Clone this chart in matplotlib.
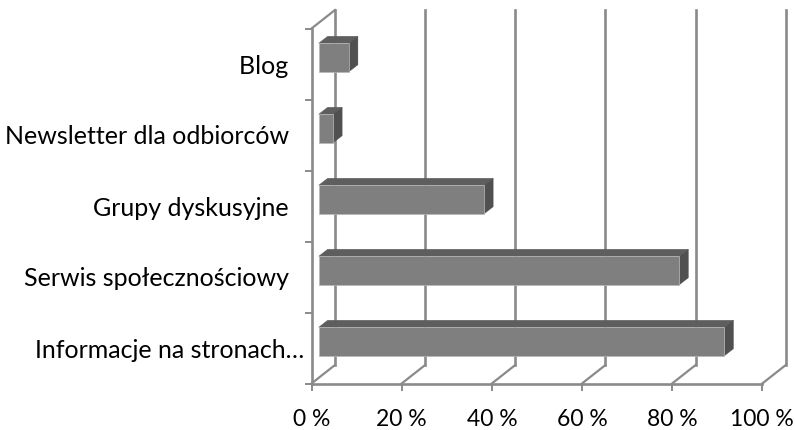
import matplotlib
matplotlib.use("Agg")
import matplotlib.pyplot as plt
from matplotlib.patches import Polygon

plt.rcParams['font.family'] = ['Lato', 'DejaVu Sans']

# bottom to top, same as the chart axis
TAIL = "\u00a0\u00a0\u2009"
categories = ["Informacje na stronach…", "Serwis społecznościowy" + TAIL, "Grupy dyskusyjne" + TAIL,
              "Newsletter dla odbiorców" + TAIL, "Blog" + TAIL]
values = [90, 80, 36.7, 3.2, 6.7]
x_ticks = [0, 20, 40, 60, 80, 100]
x_labels = ["0 %", "20 %", "40 %", "60 %", "80 %", "100 %"]

GRID = "#8a8a8a"
EDGE = "#b8b8b8"
W, H = 795, 430

fig = plt.figure(figsize=(W / 100, H / 100), dpi=100)
# front plane of the fake 3D box, in pixels
left, right, bottom, top = 311.5, 762.3, 383.5, 28.5
ax = fig.add_axes([left / W, 1 - bottom / H, (right - left) / W, (bottom - top) / H])
ax.set_xlim(0, 100)
ax.set_ylim(-0.5, 4.5)

px_x = 100 / (right - left)
px_y = 5 / (bottom - top)

# depth of the back wall
back_dx, back_dy = 23.5 * px_x, 18.5 * px_y
wall_bottom = -0.5

# walls and gridlines
for t in x_ticks:
    ax.plot([t, t + back_dx], [wall_bottom, wall_bottom + back_dy], color=GRID, lw=1.6, clip_on=False, zorder=1)
    ax.plot([t + back_dx, t + back_dx], [wall_bottom + back_dy, 4.5 + back_dy], color=GRID, lw=1.9,
            clip_on=False, zorder=1)
ax.plot([0, back_dx], [4.5, 4.5 + back_dy], color=GRID, lw=1.6, clip_on=False, zorder=1)

# bars: front face plus top and side polygons
start_dx, start_dy = 7.2 * px_x, 6.5 * px_y
depth_dx, depth_dy = 9 * px_x, 7 * px_y
bar_h = 28.5 * px_y
for i, v in enumerate(values):
    x0 = start_dx
    x1 = start_dx + v
    y0 = i + start_dy - bar_h / 2
    y1 = y0 + bar_h
    ax.add_patch(Polygon([(x0, y1), (x1, y1), (x1 + depth_dx, y1 + depth_dy), (x0 + depth_dx, y1 + depth_dy)],
                         facecolor="#5e5e5e", edgecolor="#5e5e5e", lw=0.3, zorder=2, clip_on=False))
    ax.add_patch(Polygon([(x1, y0), (x1, y1), (x1 + depth_dx, y1 + depth_dy), (x1 + depth_dx, y0 + depth_dy)],
                         facecolor="#505050", edgecolor="#505050", lw=0.3, zorder=2, clip_on=False))
    ax.barh(y0 + bar_h / 2, v, height=bar_h, left=x0, color="#7f7f7f", edgecolor=EDGE, lw=0.5,
            zorder=3, clip_on=False)

for side in ["top", "right"]:
    ax.spines[side].set_visible(False)
for side in ["left", "bottom"]:
    ax.spines[side].set_color(GRID)
    ax.spines[side].set_linewidth(1.9)
    ax.spines[side].set_zorder(1)

ax.set_xticks(x_ticks)
ax.set_xticklabels(x_labels, fontsize=16.5, color="black")
ax.tick_params(axis="x", length=5, width=1.4, color=GRID, pad=13)

ax.set_yticks(range(len(categories)))
ax.set_yticklabels(categories, fontsize=18, color="black")
ax.tick_params(axis="y", which="major", length=0, pad=5)
ax.set_yticks([-0.5, 0.5, 1.5, 2.5, 3.5, 4.5], minor=True)
ax.tick_params(axis="y", which="minor", length=5, width=1.4, color=GRID)

fig.savefig("out.png", dpi=100)
